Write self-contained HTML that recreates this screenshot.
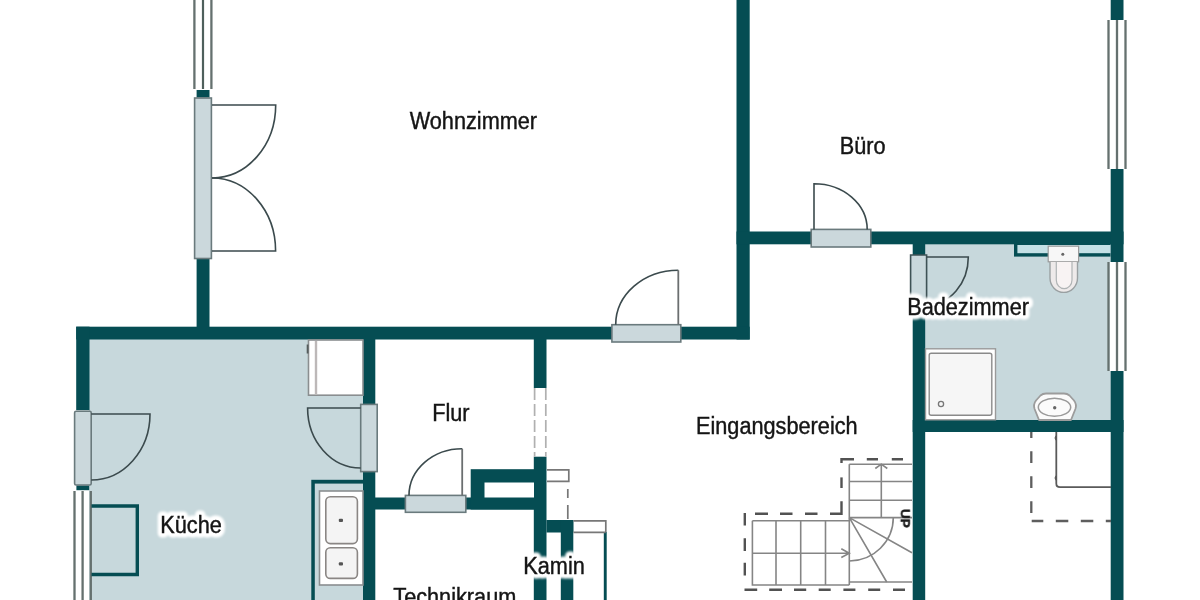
<!DOCTYPE html>
<html><head><meta charset="utf-8">
<style>
html,body{margin:0;padding:0;background:#fff;width:1200px;height:600px;overflow:hidden}
svg{display:block}
.h{font-family:"Liberation Sans",sans-serif;font-size:21.7px;fill:#fff;stroke:#fff;stroke-width:8.5px;stroke-linejoin:round}
.t{font-family:"Liberation Sans",sans-serif;font-size:21.7px;fill:#151515;stroke:#151515;stroke-width:0.4px}
</style></head><body>
<svg width="1200" height="600" viewBox="0 0 1200 600">
<defs><filter id="blur" x="-20%" y="-50%" width="140%" height="200%"><feGaussianBlur stdDeviation="0.8"/></filter></defs>
<rect x="0" y="0" width="1200" height="600" fill="#fff"/>

<!-- room fills -->
<g fill="#c7d8dc">
<rect x="89" y="339" width="274" height="261"/>
<rect x="925" y="244" width="186" height="176"/>
</g>

<!-- walls -->
<g fill="#054d53">
<rect x="736.5" y="0" width="13.2" height="339.5"/>
<rect x="736.5" y="231.5" width="387" height="12.8"/>
<rect x="1110.7" y="0" width="12.8" height="20"/>
<rect x="1110.7" y="169" width="12.8" height="93.4"/>
<rect x="1110.7" y="371" width="12.8" height="229"/>
<rect x="912.7" y="244" width="12.5" height="11"/>
<rect x="912.7" y="300" width="12.5" height="300"/>
<rect x="912.7" y="420" width="210.8" height="12"/>
<rect x="76.2" y="326.7" width="673.5" height="12.8"/>
<rect x="196.6" y="258" width="12.9" height="69"/>
<rect x="196.6" y="90" width="12.9" height="7.5"/>
<rect x="76.2" y="326.7" width="13.3" height="83.5"/>
<rect x="76.4" y="485.4" width="12.8" height="4.8"/>
<rect x="363" y="339" width="12.3" height="65.4"/>
<rect x="363" y="471.5" width="12.3" height="128.5"/>
<rect x="533.8" y="339" width="12.7" height="49"/>
<rect x="533.8" y="456.7" width="12.7" height="143.3"/>
<rect x="375" y="497.5" width="159" height="12"/>
<rect x="470.7" y="469.2" width="63.3" height="40.3"/>
<rect x="546.5" y="520" width="26.8" height="12.5"/>
<rect x="560.8" y="520" width="12.5" height="80"/>
<rect x="311.3" y="479.8" width="51.7" height="120.2"/>
<rect x="603.8" y="532" width="2.9" height="68"/>
</g>
<rect x="484.5" y="482.5" width="49.5" height="15" fill="#fff"/>
<rect x="314.8" y="483.6" width="48.2" height="117" fill="#c7d8dc"/>

<!-- door frames -->
<g fill="#cbd8dc" stroke="#6a7a7d" stroke-width="1.6">
<rect x="194.6" y="98" width="16.8" height="160.5"/>
<rect x="74.6" y="411.3" width="16.6" height="73.7" rx="1.5"/>
<rect x="360.7" y="404.4" width="16.5" height="67.2"/>
<rect x="405.4" y="495.4" width="60.4" height="16.9"/>
<rect x="611.9" y="324.7" width="68.9" height="17.3"/>
<rect x="811.2" y="229.4" width="59.6" height="17.6"/>
</g>

<path d="M910.6,305 V255 H926.6 V305" fill="#c9d8dc" stroke="#3e5255" stroke-width="1.6"/>
<!-- door leaves -->
<g fill="none" stroke="#3b4a4d" stroke-width="1.6">
<path d="M212,105 H275.7 A63.7,73 0 0 1 212,178"/>
<path d="M212,251 H275.6 A63.6,73 0 0 0 212,178"/>
<path d="M91.2,414 H150 A58.8,66 0 0 1 91.2,480"/>
<path d="M360.7,408 H307.6 A53.1,60 0 0 0 360.7,468"/>
<path d="M462.2,448.7 A53.2,46.7 0 0 0 409,495.4"/>
<path d="M678.3,270.2 A62.6,54.5 0 0 0 615.7,324.7"/>
<path d="M814,229.4 V183.8 A53.2,45.6 0 0 1 867.2,229.4"/>
<path d="M926.5,257 H968.3 A41.8,48 0 0 1 926.5,305"/>
</g>
<g fill="none" stroke="#6b6f70" stroke-width="1.8">
<path d="M462.2,495.4 V448.7"/>
<path d="M678.3,324.7 V270.2"/>
</g>

<!-- windows -->
<g stroke="#65716f" stroke-width="2.3" fill="none">
<path d="M194.4,0 V89 M211.4,0 V89"/>
<path d="M74.5,491 V600 M82.6,491 V600 M90.8,491 V600"/>
<path d="M1108.5,20 V169 M1117,20 V169 M1125.5,20 V169"/>
</g>
<rect x="1109.5" y="262" width="15" height="109" fill="#fff"/>
<g stroke="#65716f" stroke-width="2.3" fill="none">
<path d="M1108.5,262 V371 M1117,262 V371 M1125.5,262 V371"/>
</g>
<path d="M203,0 V89" stroke="#4f605c" stroke-width="2.2"/>

<!-- kitchen fixtures -->
<g fill="#fff" stroke="#8a8e90" stroke-width="1.6">
<rect x="308.5" y="340" width="54.5" height="55.2"/>
<rect x="319.5" y="491" width="43.5" height="94"/>
</g>
<path d="M316,341 V394.5" stroke="#bdb8b8" stroke-width="2.4" fill="none"/>
<path d="M307.6,344.5 V353.5" stroke="#555c5c" stroke-width="1.8" fill="none"/>
<g fill="#f4f4f4" stroke="#8a8684" stroke-width="1.6">
<rect x="325.8" y="496.8" width="31.6" height="46.8" rx="4.5"/>
<rect x="325.8" y="547.8" width="31.6" height="30.6" rx="4.5"/>
</g>
<g fill="#555">
<rect x="338.8" y="518.8" width="4.2" height="3.2" rx="1"/>
<rect x="338.8" y="562.2" width="4.2" height="3.2" rx="1"/>
</g>
<path d="M91.5,506 H137.3 V574.5 H91.5" fill="none" stroke="#054d53" stroke-width="3.4"/>

<!-- kamin dashed -->
<g fill="none" stroke="#777" stroke-width="1.7">
<path d="M547,469.8 H568.8 V481.4 H547"/>
<path d="M567.8,489 V498 M567.8,505 V519"/>
<path d="M534.6,388 V456.7 M545.8,388 V456.7" stroke="#b0b0b0" stroke-dasharray="12,4"/>
<path d="M573.5,520.8 H605.8 V532 M573.5,532.3 H605.8"/>
</g>

<!-- bath fixtures -->
<rect x="1014" y="244" width="96.5" height="12.6" fill="#054d53"/>
<rect x="1017.4" y="245" width="93.1" height="8.2" fill="#c4e0e5"/>
<rect x="1048.2" y="246.2" width="30.4" height="15.6" fill="#f7f7f7" stroke="#9a9a9a" stroke-width="1.2"/>
<circle cx="1062.8" cy="254.3" r="1.5" fill="#666"/>
<path d="M1050,262 V278 A13.75,14.4 0 0 0 1077.5,278 V262" fill="#eeeaea" stroke="#9aa0a2" stroke-width="1.4"/>
<path d="M1056.3,262 V280 A7.85,8.6 0 0 0 1072,280 V262" fill="#f8f3f3" stroke="#b0b4b5" stroke-width="1.2"/>
<rect x="925.5" y="348.8" width="70" height="71" fill="#fff" stroke="#9a9a9a" stroke-width="1.4"/>
<rect x="929.2" y="353.2" width="62.6" height="62" rx="2" fill="#f6f6f6" stroke="#8a8a8a" stroke-width="1.4"/>
<circle cx="941" cy="404" r="2.6" fill="none" stroke="#777" stroke-width="1.3"/>
<path d="M1039,420 L1034.6,409 Q1033,404.5 1036,400.5 L1040.5,395.5 Q1042.8,393.5 1046,393.5 H1064 Q1067.2,393.5 1069.5,395.5 L1074,400.5 Q1077,404.5 1075.4,409 L1071,420 Z" fill="#fbfbfb" stroke="#9c9c9c" stroke-width="1.8" stroke-linejoin="round"/>
<ellipse cx="1054.5" cy="407.3" rx="16.2" ry="9" fill="#fbfbfb" stroke="#9a9a9a" stroke-width="1.5"/>
<circle cx="1054.7" cy="407.7" r="1.7" fill="#666"/>

<!-- lower right room -->
<g fill="none" stroke="#5e5e5e" stroke-width="2.3">
<path d="M1031.3,432 V438 M1031.3,451.3 V463 M1031.3,476.3 V488 M1031.3,501.3 V513"/>
<path d="M1031.7,521 H1043.3 M1055.8,521 H1068.3 M1080.8,521 H1093.3 M1105.8,521 H1111"/>
</g>
<path d="M1111,487.2 H1060 Q1056.3,487.2 1056.3,483.5 V432" fill="none" stroke="#5a5a5a" stroke-width="1.8"/>
<path d="M1056,436 Q1054.5,438 1056,440 M1056,476 Q1054.5,478 1056,480" fill="none" stroke="#5a5a5a" stroke-width="1.3"/>

<!-- staircase -->
<g fill="none" stroke="#525252" stroke-width="2.4">
<path d="M854,459.3 H841.5 V463"/>
<path d="M866.8,459.3 H878 M891.8,459.3 H903"/>
<path d="M841.5,477.4 V488"/>
<path d="M841.5,501.3 V513.7 H830"/>
<path d="M817.5,513.7 H805 M792.5,513.7 H780 M768,513.7 H755"/>
<path d="M744.8,513 V525.6 M744.8,538.2 V551 M744.8,562.8 V575.4"/>
<path d="M744.5,589.8 H757.2 M769.2,589.8 H782 M794,589.8 H806.2 M818.7,589.8 H830.7 M843.4,589.8 H855.4 M868.2,589.8 H880.2 M893,589.8 H905"/>
</g>
<g fill="none" stroke="#858585" stroke-width="1.6">
<path d="M752.4,520.8 H849.3 M752.4,520.8 V585 H849.3"/>
<path d="M776,520.8 V585 M800.7,520.8 V585 M825.5,520.8 V585"/>
<path d="M752.4,553.2 H849.3 M841.3,548.7 L849.3,553.3 L841.3,557.5"/>
<path d="M849.3,464.2 H912 M849.3,481.5 H912 M849.3,500.2 H912 M849.3,517.6 H912 M849.3,582 H912"/>
<path d="M849.3,464.2 V585"/>
<path d="M881.3,464.2 V517.6 M875.3,468.5 L881.3,464.2 L887.3,468.5"/>
<path d="M849.3,517.6 L912,552.7 M849.3,517.6 L886.7,582"/>
<path d="M849.3,561 A44,43.4 0 0 0 893.3,517.6"/>
</g>

<!-- texts -->
<g filter="url(#blur)">
<text class="h" transform="translate(409.7,128.6) scale(1,1.08)">Wohnzimmer</text>
<text class="h" transform="translate(839.8,153.6) scale(1,1.08)">Büro</text>
<text class="h" transform="translate(907.2,315.1) scale(1,1.08)">Badezimmer</text>
<text class="h" transform="translate(432.2,421.5) scale(1,1.08)">Flur</text>
<text class="h" transform="translate(696.0,434.5) scale(1,1.08)">Eingangsbereich</text>
<text class="h" transform="translate(160.3,532.9) scale(1,1.08)">Küche</text>
<text class="h" transform="translate(523.3,573.8) scale(1,1.08)">Kamin</text>
<text class="h" transform="translate(393.3,604.7) scale(1,1.08)">Technikraum</text>
</g>
<text class="t" transform="translate(409.7,128.6) scale(1,1.08)">Wohnzimmer</text>
<text class="t" transform="translate(839.8,153.6) scale(1,1.08)">Büro</text>
<text class="t" transform="translate(907.2,315.1) scale(1,1.08)">Badezimmer</text>
<text class="t" transform="translate(432.2,421.5) scale(1,1.08)">Flur</text>
<text class="t" transform="translate(696.0,434.5) scale(1,1.08)">Eingangsbereich</text>
<text class="t" transform="translate(160.3,532.9) scale(1,1.08)">Küche</text>
<text class="t" transform="translate(523.3,573.8) scale(1,1.08)">Kamin</text>
<text class="t" transform="translate(393.3,604.7) scale(1,1.08)">Technikraum</text>
<text transform="translate(900.8,509) rotate(90)" style="font-family:'Liberation Sans',sans-serif;font-weight:bold;font-size:13.5px;fill:#1a1a1a;stroke:#1a1a1a;stroke-width:0.5px">UP</text>
</svg>
</body></html>
